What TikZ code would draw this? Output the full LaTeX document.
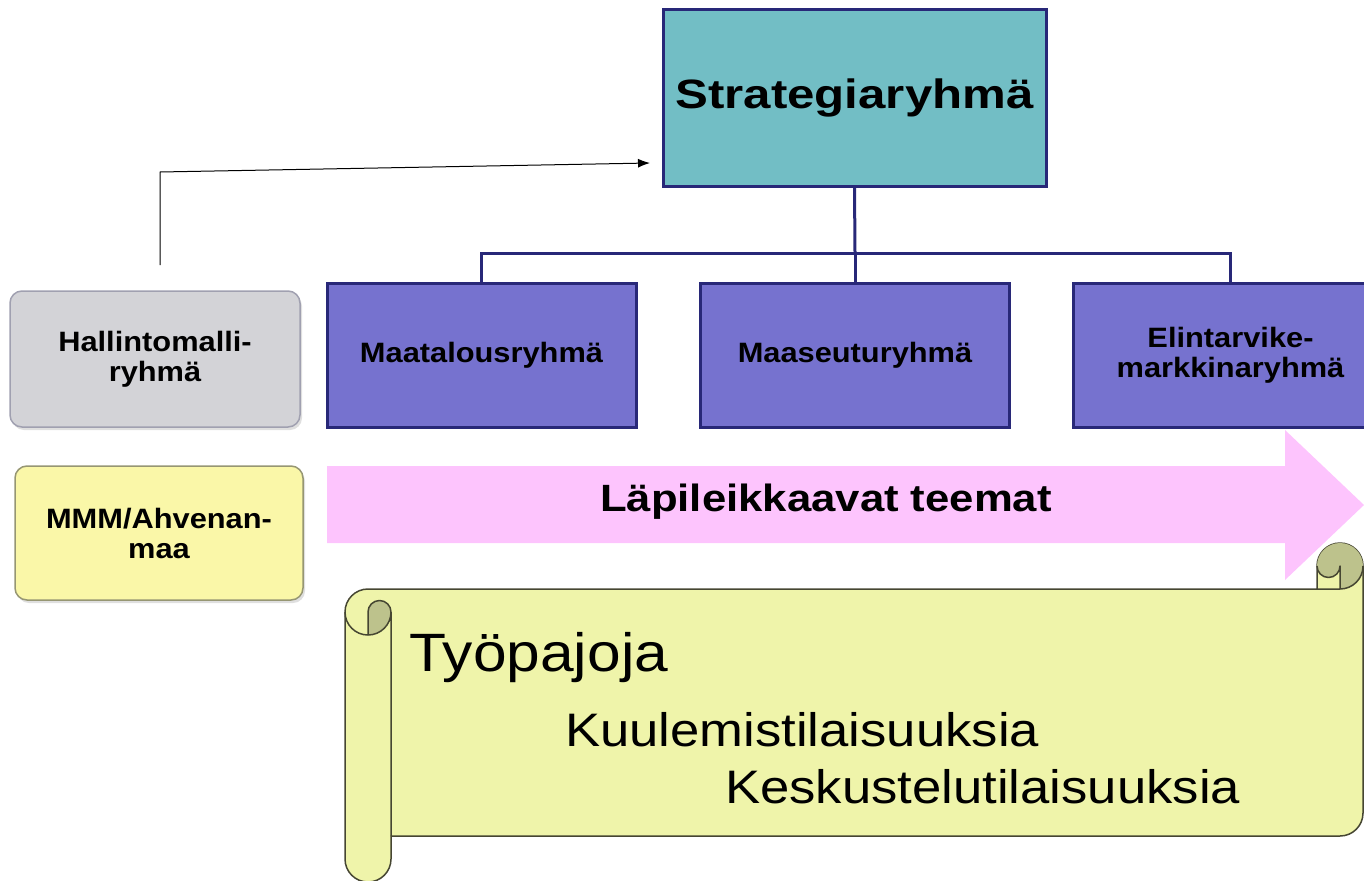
\documentclass[tikz,border=0pt]{standalone}
\usepackage{fontspec}
\setmainfont{Liberation Sans}
\newfontfamily\widefont{Liberation Sans}[FakeStretch=1.2]
\newfontfamily\boxfont{Liberation Sans}[FakeStretch=1.1]
\newfontfamily\themefont{Liberation Sans}[FakeStretch=1.15]
\newfontfamily\scrollfont{Liberation Sans}[FakeStretch=1.12]
\usetikzlibrary{arrows.meta,shadows}

\definecolor{stratcol}{RGB}{114,190,197}
\definecolor{groupcol}{RGB}{118,114,207}
\definecolor{navycol}{RGB}{40,40,120}
\definecolor{graycol}{RGB}{211,211,215}
\definecolor{grayline}{RGB}{160,160,176}
\definecolor{yellowcol}{RGB}{250,247,168}
\definecolor{yellowline}{RGB}{150,150,115}
\definecolor{pinkcol}{RGB}{253,196,253}
\definecolor{scrollcol}{RGB}{239,244,170}
\definecolor{curlcol}{RGB}{189,194,140}
\definecolor{scrollline}{RGB}{70,70,50}

\tikzset{
  groupbox/.style={draw=navycol, line width=3pt, fill=groupcol, minimum width=309pt,
    minimum height=144pt, align=center, font=\boxfont\bfseries\fontsize{28}{30}\selectfont},
  sidebox/.style={rounded corners=12pt, line width=1.5pt, minimum width=290pt,
    minimum height=136pt, align=center, font=\boxfont\bfseries\fontsize{28}{30}\selectfont,
    drop shadow={opacity=0.25, shadow xshift=2pt, shadow yshift=-3pt}},
  link/.style={draw=navycol, line width=3pt},
  scrolltext/.style={anchor=base west, inner sep=0pt, font=\scrollfont\fontsize{47}{50}\selectfont}
}

\begin{document}
\begin{tikzpicture}[x=1pt, y=-1pt]
      \useasboundingbox (0,0) rectangle (1364,880);

      % Nodes
      \node[draw=navycol, line width=3pt, fill=stratcol, minimum width=383pt, minimum height=176pt,
        font=\widefont\bfseries\fontsize{41}{45}\selectfont] (strat) at (854.5,98) {Strategiaryhmä};
      \node[groupbox] (agri) at (481.5,355) {Maatalousryhmä};
      \node[groupbox] (rural) at (855,355) {Maaseuturyhmä};
      \node[groupbox, minimum width=315pt] (food) at (1230.5,355) {Elintarvike-\\markkinaryhmä};
      \node[sidebox, draw=grayline, fill=graycol] (admin) at (155,359) {Hallintomalli-\\ryhmä};
      \node[sidebox, draw=yellowline, fill=yellowcol, minimum width=288pt, minimum height=134pt] (mmm) at (159,533) {MMM/Ahvenan-\\maa};

      % Connectors
      \coordinate (fork) at (855,253);
      \draw[link] (strat.south) -- (fork);
      \draw[link] (fork) -| (agri.north);
      \draw[link] (fork) -- (rural.north);
      \draw[link] (fork) -| (food.north);

      \coordinate (hstart) at (160,265);
      \coordinate (hend) at (650,163);
      \draw[-{Latex[length=12pt,width=9pt]}, line width=1pt] (hstart) -- ++(0,-93) -- (hend);

      % Arrow
      \fill[pinkcol] (327,466) -- (1285,466) -- (1285,430) -- (1364,505) -- (1285,580)
        -- (1285,543) -- (327,543) -- cycle;
      \node[font=\themefont\bfseries\fontsize{38}{40}\selectfont] (themes) at (826,502) {Läpileikkaavat teemat};

      % Scroll
      \filldraw[fill=scrollcol, draw=scrollline, line width=1.5pt, line join=round]
        (345,612) arc[start angle=180, end angle=270, radius=23] -- (1317,589) -- (1317,566)
        arc[start angle=180, end angle=360, radius=23] -- (1363,813)
        arc[start angle=0, end angle=90, radius=23] -- (391,836) -- (391,859)
        arc[start angle=0, end angle=180, radius=23] -- cycle;
      \fill[curlcol] (368,635) arc[start angle=90, end angle=0, radius=23]
        arc[start angle=0, end angle=-180, radius=11.5] -- cycle;
      \fill[curlcol] (1340,589) arc[start angle=90, end angle=-180, radius=23]
        arc[start angle=180, end angle=0, radius=11.5] -- cycle;
      \draw[scrollline, line width=1.5pt, line join=round]
        (1317,589) -- (1340,589) arc[start angle=90, end angle=0, radius=23]
        (1340,589) -- (1340,566) arc[start angle=0, end angle=180, radius=11.5]
        (368,635) -- (368,612) arc[start angle=180, end angle=360, radius=11.5]
        arc[start angle=0, end angle=180, radius=23]
        (391,612) -- (391,836);

      \node[scrolltext, font=\scrollfont\fontsize{54}{56}\selectfont] (work) at (409,671) {Työpajoja};
      \node[scrolltext] (hear) at (565,746) {Kuulemistilaisuuksia};
      \node[scrolltext] (talk) at (725,803) {Keskustelutilaisuuksia};
    \end{tikzpicture}
\end{document}
